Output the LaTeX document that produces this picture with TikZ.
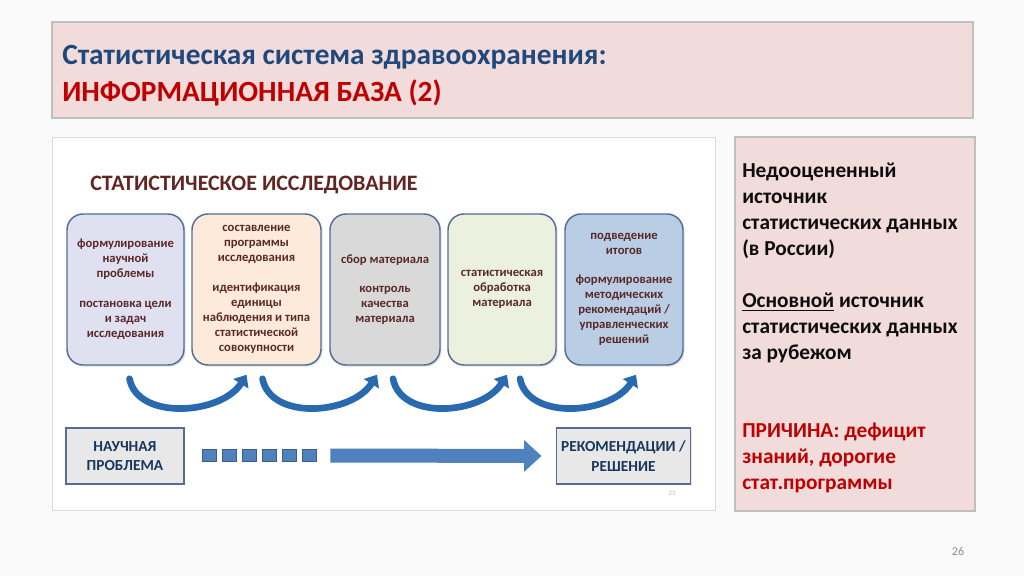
\documentclass[tikz,border=0pt]{standalone}
\usepackage{fontspec}
\setmainfont{Carlito}
\usepackage{tikz}
\usetikzlibrary{arrows.meta,positioning,calc,shadows}
\definecolor{slBack}  {RGB}{250,250,250}
\definecolor{slPink}  {RGB}{242,220,219}
\definecolor{slFrame} {RGB}{191,191,191}
\definecolor{slBlue}  {RGB}{ 31, 73,125}
\definecolor{slRed}   {RGB}{192,  0,  0}
\definecolor{imgFrame}{RGB}{217,217,217}
\definecolor{stTitle} {RGB}{ 99, 37, 35}
\definecolor{stText}  {RGB}{ 90, 40, 40}
\definecolor{stBorder}{RGB}{ 84,108,150}
\definecolor{fillA}   {RGB}{223,225,240}
\definecolor{fillB}   {RGB}{253,234,218}
\definecolor{fillC}   {RGB}{217,217,217}
\definecolor{fillD}   {RGB}{235,241,222}
\definecolor{fillE}   {RGB}{185,205,229}
\definecolor{arcBlue} {RGB}{ 41,105,176}
\definecolor{sqBlue}  {RGB}{ 79,129,189}
\definecolor{sqBorder}{RGB}{ 56, 93,138}
\definecolor{endFill} {RGB}{232,232,232}
\definecolor{endText} {RGB}{ 23, 55, 94}
\definecolor{pageGrey}{RGB}{140,140,140}
\newcommand{\pxu}{0.75pt}

\begin{document}
\begin{tikzpicture}[x=0.75pt,y=-0.75pt,
    every node/.style={font=\bfseries},
    panel/.style={rectangle,draw=slFrame,fill=slPink,line width=0.8pt},
    stage/.style={rectangle,rounded corners=12pt,draw=stBorder,line width=1.1pt,
                  minimum height=151*\pxu,align=center,text=stText,
                  font=\bfseries\fontsize{9.5}{11.25}\selectfont,
                  drop shadow={opacity=0.25,shadow xshift=1.2pt,shadow yshift=-1.2pt}},
    endbox/.style={rectangle,draw=stBorder,fill=endFill,line width=1pt,
                   minimum height=56*\pxu,align=center,text=endText,
                   font=\bfseries\fontsize{11.5}{14.5}\selectfont,
                   drop shadow={opacity=0.2,shadow xshift=1pt,shadow yshift=-1pt}},
    sqr/.style={rectangle,draw=sqBorder,fill=sqBlue,line width=0.5pt,inner sep=0,
                minimum width=14*\pxu,minimum height=12*\pxu},
    flow/.style={line width=5pt,draw=arcBlue,line cap=round,
                 -{Triangle[length=8pt,width=13pt]}},
    bigarr/.style={line width=10.5pt,draw=sqBlue,
                   -{Triangle[length=13pt,width=23pt]},shorten >=11pt}
  ]
  \fill[slBack] (0,0) rectangle (1024,576);
  \useasboundingbox (0,0) rectangle (1024,576);
  % Header
  \node[panel,minimum width=921*\pxu,minimum height=96*\pxu] (head) at (512.5,70) {};
  \node[anchor=west,inner sep=0,text=slBlue,font=\bfseries\fontsize{22}{26}\selectfont]
       (t1) at (62,57) {Статистическая система здравоохранения:};
  \node[anchor=west,inner sep=0,text=slRed,font=\bfseries\fontsize{22}{26}\selectfont]
       (t2) at (62,93) {ИНФОРМАЦИОННАЯ БАЗА (2)};
  % Picture of the study
  \node[rectangle,draw=imgFrame,fill=white,minimum width=663*\pxu,minimum height=373*\pxu]
       (img) at (383.5,323.5) {};
  \node[anchor=west,inner sep=0,text=stTitle,font=\bfseries\fontsize{16.5}{20}\selectfont]
       (ttl) at (90,185) {СТАТИСТИЧЕСКОЕ ИССЛЕДОВАНИЕ};
  \node[stage,fill=fillA,minimum width=117*\pxu] (b1) at (125.5,289.5)
       {формулирование\\научной\\проблемы\\[11pt]постановка цели\\и задач\\исследования};
  \node[stage,fill=fillB,minimum width=129*\pxu] (b2) at (256.5,289.5)
       {составление\\программы\\исследования\\[11pt]идентификация\\единицы\\наблюдения и типа\\статистической\\совокупности};
  \node[stage,fill=fillC,minimum width=110*\pxu] (b3) at (385,289.5)
       {сбор материала\\[11pt]контроль\\качества\\материала};
  \node[stage,fill=fillD,minimum width=108*\pxu] (b4) at (502,289.5)
       {статистическая\\обработка\\материала};
  \node[stage,fill=fillE,minimum width=118*\pxu] (b5) at (624,289.5)
       {подведение\\итогов\\[11pt]формулирование\\методических\\рекомендаций /\\управленческих\\решений};
  % Curved arrows
  \foreach \a/\b/\da/\db in {b1/b2/4/-10,b2/b3/6/-8,b3/b4/8/5,b4/b5/18/12}
    \draw[flow] ($(\a.south)+(\da,13)$) .. controls +(8,42) and +(-25,40) .. ($(\b.south)+(\db,9)$);
  % Bottom row
  \node[endbox,minimum width=118*\pxu] (prob) at (125,456) {НАУЧНАЯ\\ПРОБЛЕМА};
  \node[endbox,minimum width=127*\pxu] (rec) at (623.5,456) {РЕКОМЕНДАЦИИ /\\РЕШЕНИЕ};
  \foreach \i in {1,...,6}
    \node[sqr] (sq\i) at ({189+20*\i},455.5) {};
  \draw[bigarr] ($(sq6.east)+(14,0)$) -- (rec.west);
  \node[text=pageGrey!60,font=\fontsize{5}{6}\selectfont] (pgi) at (672,493) {23};
  % Side note
  \node[panel,minimum width=240*\pxu,minimum height=374*\pxu] (side) at (855,324) {};
  \node[anchor=north west,align=left,inner sep=0,text=black!95,
        font=\bfseries\fontsize{16}{19.5}\selectfont] (note) at (742,163)
       {Недооцененный\\источник\\статистических данных\\(в России)\\[19.5pt]%
        \underline{Основной} источник\\статистических данных\\за рубежом\\[39pt]%
        \textcolor{slRed}{ПРИЧИНА: дефицит}\\\textcolor{slRed}{знаний, дорогие}\\%
        \textcolor{slRed}{стат.программы}};
  \node[text=pageGrey,font=\fontsize{9}{11}\selectfont] (pg) at (958,551) {26};
\end{tikzpicture}
\end{document}
